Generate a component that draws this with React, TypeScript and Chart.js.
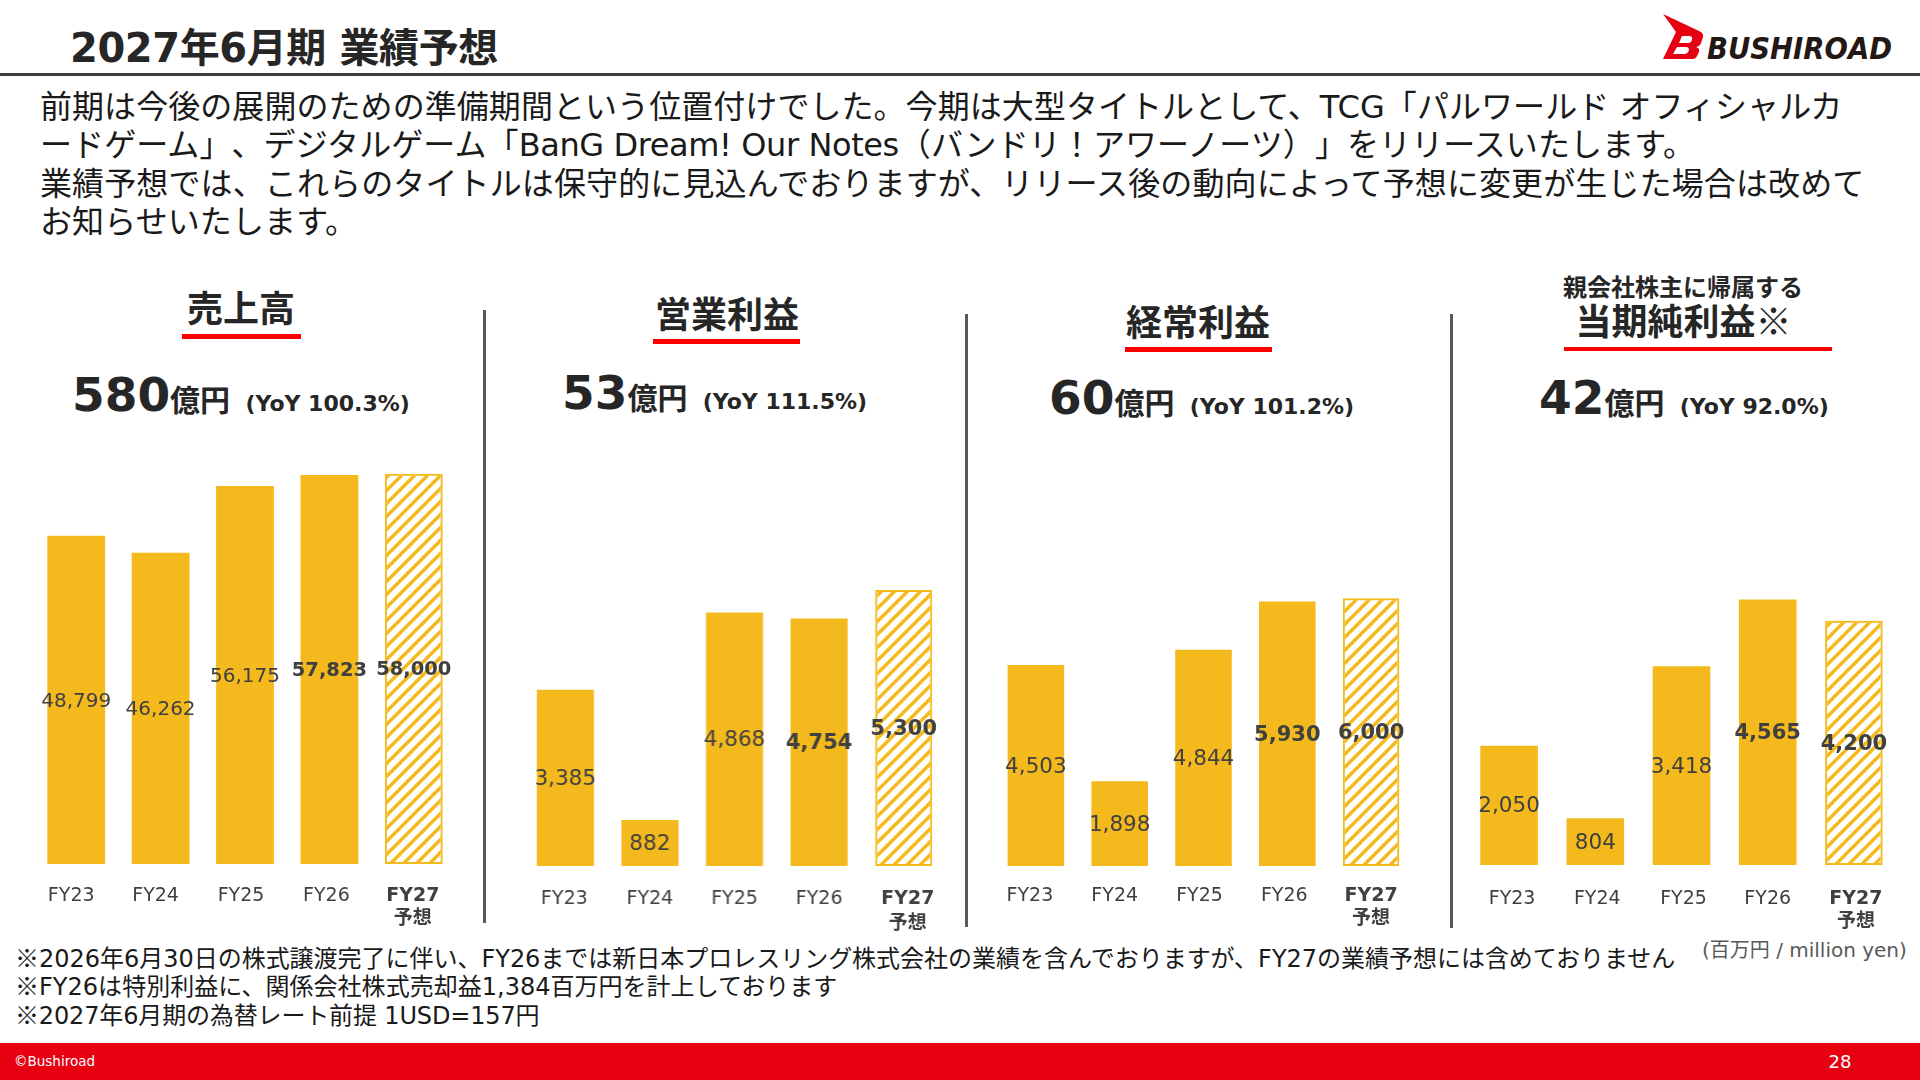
import React, { useEffect, useRef } from 'react';
import { Chart, BarController, BarElement, CategoryScale, LinearScale } from 'chart.js';

Chart.register(BarController, BarElement, CategoryScale, LinearScale);

const FONT = '"DejaVu Sans", "Noto Sans CJK JP", sans-serif';
const CJK = '"Noto Sans CJK JP", sans-serif';
const BAR_COLOR = '#f4b91c';
const TEXT_COLOR = '#404040';

const categories = ['FY23', 'FY24', 'FY25', 'FY26', ['FY27', '予想']];
const salesValues = [48799, 46262, 56175, 57823, 58000];
const operatingValues = [3385, 882, 4868, 4754, 5300];
const ordinaryValues = [4503, 1898, 4844, 5930, 6000];
const netValues = [2050, 804, 3418, 4565, 4200];

const hatchPattern = (ctx: CanvasRenderingContext2D) => {
  const size = 13;
  const tile = document.createElement('canvas');
  tile.width = size;
  tile.height = size;
  const t = tile.getContext('2d')!;
  t.strokeStyle = BAR_COLOR;
  t.lineWidth = 3.4;
  for (const off of [-size, 0, size]) {
    t.beginPath();
    t.moveTo(off - 2, size + 2);
    t.lineTo(off + size + 2, -2);
    t.stroke();
  }
  return ctx.createPattern(tile, 'repeat');
};

type PanelProps = {
  values: number[];
  left: number;
  step: number;
  bottom: number;
  yMax: number;
  barPct: number;
  labelSize: number;
  tickY: number;
  tickGap: number;
  tickShift: number[];
};

const PLOT_H = 400;
const SIDE = 24;

function BarPanel({ values, left, step, bottom, yMax, barPct, labelSize, tickY, tickGap, tickShift }: PanelProps) {
  const canvasRef = useRef<HTMLCanvasElement>(null);

  useEffect(() => {
    const ctx = canvasRef.current?.getContext('2d');
    if (!ctx) return;

    const labelPlugin = {
      id: 'panelLabels',
      afterDraw(chart: Chart) {
        const c = chart.ctx;
        const meta = chart.getDatasetMeta(0);
        const x = chart.scales.x;
        c.save();
        c.textAlign = 'center';
        c.textBaseline = 'middle';
        c.fillStyle = TEXT_COLOR;
        meta.data.forEach((bar: any, i: number) => {
          c.font = `${i >= 3 ? 'bold ' : ''}${i >= 3 ? labelSize - 0.5 : labelSize}px ${FONT}`;
          c.fillText(values[i].toLocaleString('en-US'), bar.x, (bar.y + bar.base) / 2 + 1.5);
        });
        x.ticks.forEach((tick: any, i: number) => {
          const lines = [].concat(tick.label);
          const px = x.getPixelForTick(i) + tickShift[i];
          const top = PLOT_H + tickY;
          lines.forEach((line: string, k: number) => {
            c.font = `${lines.length > 1 ? 'bold ' : ''}19px ${FONT}`;
            c.fillText(line, px, top + k * tickGap);
          });
        });
        c.restore();
      }
    };

    const chart = new Chart(ctx, {
      type: 'bar',
      data: {
        labels: categories as any,
        datasets: [
          {
            data: values,
            backgroundColor: values.map((_, i) => (i === 4 ? hatchPattern(ctx) : BAR_COLOR)) as any,
            borderColor: BAR_COLOR,
            borderWidth: values.map((_, i) => (i === 4 ? 2 : 0)),
            borderSkipped: false,
            categoryPercentage: 1,
            barPercentage: barPct
          }
        ]
      },
      options: {
        animation: false,
        responsive: false,
        layout: { padding: { left: SIDE, right: SIDE, top: 0, bottom: 70 } },
        plugins: { legend: { display: false }, tooltip: { enabled: false } },
        scales: {
          x: { display: false },
          y: { display: false, min: 0, max: yMax }
        }
      },
      plugins: [labelPlugin]
    });

    return () => chart.destroy();
  }, []);

  return (
    <canvas
      ref={canvasRef}
      width={step * 5 + SIDE * 2}
      height={PLOT_H + 70}
      style={{ position: 'absolute', left: left - SIDE, top: bottom - PLOT_H, width: step * 5 + SIDE * 2, height: PLOT_H + 70 }}
    />
  );
}

function Txt({ x, y, size, bold, color, children, spacing, center }: any) {
  return (
    <div
      style={{
        position: 'absolute',
        left: x,
        top: y,
        transform: center ? 'translate(-50%, -50%)' : 'translateY(-50%)',
        fontSize: size,
        fontWeight: bold ? 700 : 400,
        color: color || '#262626',
        letterSpacing: spacing,
        whiteSpace: 'pre',
        lineHeight: 1.2,
        textSpacingTrim: 'space-all'
      } as any}
    >
      {children}
    </div>
  );
}

function Rect({ x, y, w, h, color }: any) {
  return <div style={{ position: 'absolute', left: x, top: y, width: w, height: h, background: color }} />;
}

function Headline({ x, y, big, yoy }: any) {
  return (
    <div style={{ position: 'absolute', left: x, top: y, transform: 'translateY(-100%)', whiteSpace: 'pre', color: '#262626', fontWeight: 700, lineHeight: 1 }}>
      <span style={{ fontSize: 47 }}>{big}</span>
      <span style={{ fontSize: 30 }}>億円</span>
      <span style={{ fontSize: 22 }}>{'  (YoY ' + yoy + ')'}</span>
    </div>
  );
}

const Mark = ({ weight }: any) => <span style={{ fontFamily: CJK, fontWeight: weight || 400 }}>※</span>;

export default function App() {
  return (
    <div style={{ position: 'fixed', left: 0, top: 0, width: 1920, height: 1080, background: '#fff', overflow: 'hidden', fontFamily: FONT }}>
      <Txt x={70} y={48} size={40} bold spacing={-0.4}>2027年6月期 業績予想</Txt>
      <Rect x={0} y={73} w={1920} h={3} color="#404040" />

      <svg width={240} height={60} style={{ position: 'absolute', left: 1660, top: 8 }} viewBox="1660 8 240 60">
        <path
          fillRule="evenodd"
          fill="#e60012"
          d="M1663 14 L1699 31 Q1704 33 1703 37 L1701 43 Q1700 46 1696 47 Q1700 48 1699 52 L1697 56 Q1696 59 1692 59 L1663 59 L1676 32 Z M1682 36 L1679 43 L1688 43 Q1691 43 1692 40 Q1693 36 1689 36 Z M1677 47 L1673 54 L1684 54 Q1688 54 1689 50 Q1689 47 1686 47 Z"
        />
        <text x={1707} y={59} fontFamily="'DejaVu Sans'" fontWeight="700" fontStyle="italic" fontSize={31} fill="#231815" textLength={185} lengthAdjust="spacingAndGlyphs">BUSHIROAD</text>
      </svg>

      <Txt x={40} y={106.5} size={32} color="#1a1a1a" spacing={0.06}>前期は今後の展開のための準備期間という位置付けでした。今期は大型タイトルとして、TCG「パルワールド オフィシャルカ</Txt>
      <Txt x={40} y={145} size={32} color="#1a1a1a" spacing={0.08}>ードゲーム」、デジタルゲーム「<span style={{ letterSpacing: -0.4 }}>BanG Dream! Our Notes</span>（バンドリ！アワーノーツ）」をリリースいたします。</Txt>
      <Txt x={40} y={183.5} size={32} color="#1a1a1a" spacing={0.12}>業績予想では、これらのタイトルは保守的に見込んでおりますが、リリース後の動向によって予想に変更が生じた場合は改めて</Txt>
      <Txt x={40} y={222} size={32} color="#1a1a1a" spacing={0.1}>お知らせいたします。</Txt>

      <Txt x={241} y={310} size={36} bold center>売上高</Txt>
      <Rect x={182} y={334} w={119} h={4.5} color="#ff0000" />
      <Headline x={72} y={418} big="580" yoy="100.3%" />

      <Rect x={483} y={310} w={3} h={613} color="#595959" />

      <Txt x={727} y={316} size={36} bold center>営業利益</Txt>
      <Rect x={653} y={339} w={147} h={4.5} color="#ff0000" />
      <Headline x={562} y={416} big="53" yoy="111.5%" />

      <Rect x={965} y={314} w={3} h={613} color="#595959" />

      <Txt x={1198} y={324} size={36} bold center>経常利益</Txt>
      <Rect x={1125} y={347} w={147} h={4.5} color="#ff0000" />
      <Headline x={1049} y={421} big="60" yoy="101.2%" />

      <Rect x={1450} y={314} w={3} h={614} color="#595959" />

      <Txt x={1683} y={288} size={24} bold center>親会社株主に帰属する</Txt>
      <Txt x={1683.5} y={321} size={36} bold center>当期純利益<Mark /></Txt>
      <Rect x={1564} y={346.5} w={268} h={4.5} color="#ff0000" />
      <Headline x={1539} y={421} big="42" yoy="92.0%" />

      <BarPanel values={salesValues} left={34} step={84.4} bottom={864} yMax={59460} barPct={0.685} labelSize={20} tickY={32} tickGap={23} tickShift={[-5, -5, -4, -3, -1]} />
      <BarPanel values={operatingValues} left={523} step={84.5} bottom={866} yMax={7681} barPct={0.675} labelSize={21.5} tickY={33} tickGap={25} tickShift={[-1, 0, 0, 0, 4]} />
      <BarPanel values={ordinaryValues} left={993.6} step={83.8} bottom={866} yMax={8965} barPct={0.675} labelSize={21.5} tickY={30} tickGap={23} tickShift={[-6, -5, -4, -3, 0]} />
      <BarPanel values={netValues} left={1466} step={86.2} bottom={865} yMax={6875} barPct={0.668} labelSize={21.5} tickY={34} tickGap={23} tickShift={[3, 2, 2, 0, 2]} />

      <Txt x={15} y={957.5} size={24} color="#1a1a1a" spacing={-0.02}><Mark />2026年6月30日の株式譲渡完了に伴い、FY26までは新日本プロレスリング株式会社の業績を含んでおりますが、FY27の業績予想には含めておりません</Txt>
      <Txt x={15} y={986} size={24} color="#1a1a1a" spacing={0.02}><Mark />FY26は特別利益に、関係会社株式売却益1,384百万円を計上しております</Txt>
      <Txt x={15} y={1015} size={24} color="#1a1a1a" spacing={-0.15}><Mark />2027年6月期の為替レート前提 1USD=157円</Txt>
      <Txt x={1702} y={950} size={20} color="#595959">(百万円 / million yen)</Txt>

      <Rect x={0} y={1043} w={1920} h={37} color="#e60012" />
      <Txt x={14} y={1061} size={13.5} color="#fff">©Bushiroad</Txt>
      <Txt x={1840} y={1062} size={18} color="#fff" center>28</Txt>
    </div>
  );
}
